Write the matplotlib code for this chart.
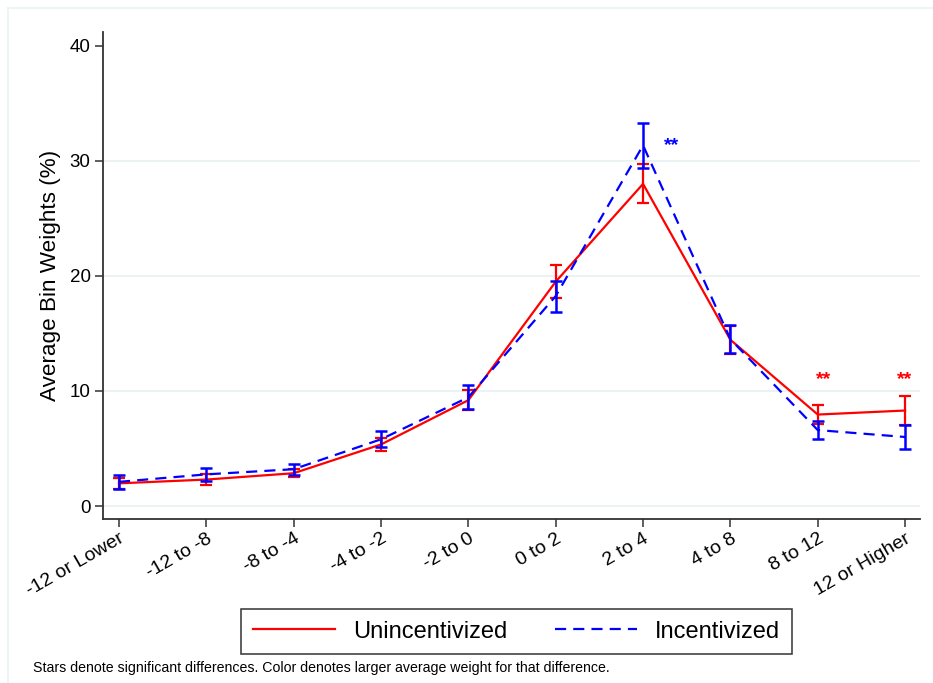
import matplotlib
matplotlib.use("Agg")
import matplotlib.pyplot as plt
from matplotlib.lines import Line2D
import numpy as np

plt.rcParams['font.family'] = ['Liberation Sans', 'DejaVu Sans']

bins = ["-12 or Lower", "-12 to -8", "-8 to -4", "-4 to -2", "-2 to 0",
        "0 to 2", "2 to 4", "4 to 8", "8 to 12", "12 or Higher"]

unincentivized = [1.97, 2.3, 2.85, 5.35, 9.2, 19.5, 28.0, 14.45, 7.95, 8.3]
unincentivized_ci = [0.45, 0.45, 0.35, 0.55, 0.85, 1.45, 1.7, 1.2, 0.85, 1.25]

incentivized = [2.1, 2.75, 3.2, 5.8, 9.45, 18.25, 31.35, 14.5, 6.6, 6.0]
incentivized_ci = [0.58, 0.58, 0.48, 0.7, 1.05, 1.35, 1.95, 1.2, 0.8, 1.05]

# bins with significant differences, and the group with the larger weight
stars = [(6, "Incentivized"), (8, "Unincentivized"), (9, "Unincentivized")]

RED = "#FF0000"
BLUE = "#0000FF"
GRID = "#EAF2F3"

fig = plt.figure(figsize=(9.33, 6.83), dpi=100)
ax = fig.add_axes([0.1104, 0.2401, 0.986 - 0.1104, 0.9531 - 0.2401])

x = np.arange(len(bins))

for yv in [0, 10, 20, 30]:
    ax.axhline(yv, color=GRID, lw=1.4, zorder=0)

ax.errorbar(x, unincentivized, yerr=unincentivized_ci, color=RED, lw=1.6,
            elinewidth=1.6, capsize=4.5, capthick=1.6, zorder=3)
ax.errorbar(x, incentivized, yerr=incentivized_ci, color=BLUE, lw=1.6,
            elinewidth=1.8, capsize=4.5, capthick=1.8, zorder=4,
            linestyle=(0, (5, 3.2)))

for i, group in stars:
    if group == "Incentivized":
        ax.text(i + 0.33, incentivized[i], "**", color=BLUE, fontsize=14,
                ha="center", va="center", fontweight="bold")
    else:
        ax.text(i + 0.07 * (i == 8), 11.0, "**", color=RED, fontsize=14,
                ha="center", va="center", fontweight="bold")

ax.set_xlim(-0.183, 9.17)
ax.set_ylim(-1.13, 41.2)
ax.set_yticks([0, 10, 20, 30, 40])
ax.set_xticks(x)
ax.set_xticklabels(bins, rotation=30, ha="right", rotation_mode="anchor",
                   fontsize=14)
ax.tick_params(axis="y", labelsize=13.5, length=6, width=1.1, color="#333333",
               pad=3)
ax.tick_params(axis="x", length=6, width=1.1, color="#333333", pad=2)
ax.set_ylabel("Average Bin Weights (%)", fontsize=16.2, labelpad=6)

for side in ["top", "right"]:
    ax.spines[side].set_visible(False)
for side in ["left", "bottom"]:
    ax.spines[side].set_color("#333333")
    ax.spines[side].set_linewidth(1.3)

handles = [Line2D([], [], color=RED, lw=1.6),
           Line2D([], [], color=BLUE, lw=1.6, linestyle=(0, (5, 3.2)))]
leg = fig.legend(handles, ["Unincentivized", "Incentivized"],
                 loc="center", bbox_to_anchor=(516.5 / 933, 1 - 631.5 / 683),
                 ncol=2, fontsize=17, frameon=True, fancybox=False,
                 edgecolor="black", handlelength=3.5, columnspacing=2.0,
                 borderpad=0.5, handletextpad=0.75)
leg.get_frame().set_linewidth(1.1)

fig.text(33 / 933, 1 - 668 / 683,
         "Stars denote significant differences. Color denotes larger average weight for that difference.",
         fontsize=10.2, ha="left", va="center")

# faint outer frame
fig.add_artist(Line2D([8 / 933, 8 / 933], [0, 1 - 8 / 683], color=GRID, lw=1.2,
                      transform=fig.transFigure))
fig.add_artist(Line2D([8 / 933, 1], [1 - 8 / 683, 1 - 8 / 683], color=GRID,
                      lw=1.2, transform=fig.transFigure))

fig.savefig("out.png", dpi=100)
